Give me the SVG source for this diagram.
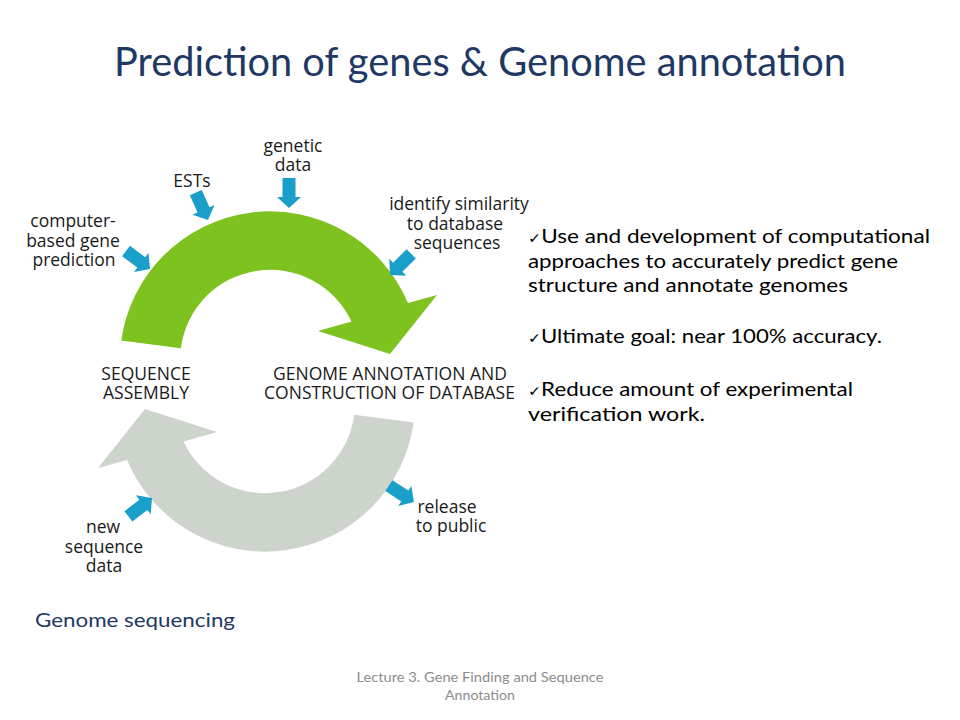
<svg xmlns="http://www.w3.org/2000/svg" width="960" height="720" viewBox="0 0 960 720">
<style>
.lbl{font-family:"Open Sans","Noto Sans",sans-serif;font-size:17.5px;fill:#1a1a1a;text-anchor:middle}
.body{font-family:Lato,"DejaVu Sans",sans-serif;font-size:20px;fill:#000}
.ck{font-size:14px}
.blue{fill:#1a9fca}
</style>
<defs>
<path id="cyc" d="M121.3,340.4 A150,150 0 0 1 408,303 L437,295 L390,354 L318,331 L351.5,321.5 A90,90 0 0 0 180.8,348.3 Z"/>
<polygon id="ba" points="-30,-6.5 -11,-6.5 -11,-12 0,0 -11,12 -11,6.5 -30,6.5"/>
</defs>
<rect width="960" height="720" fill="#fff"/>
<text x="480" y="76" text-anchor="middle" font-family="Lato,sans-serif" font-size="40" fill="#1f3864" textLength="732" lengthAdjust="spacingAndGlyphs">Prediction of genes &amp; Genome annotation</text>
<g id="connectors">
<use href="#cyc" fill="#7dc21e"/>
<use href="#cyc" fill="#cdd4cb" transform="rotate(180 267.5 381.5)"/>
<use href="#ba" class="blue" transform="translate(150,269) rotate(37)"/>
<use href="#ba" class="blue" transform="translate(208,220) rotate(66)"/>
<use href="#ba" class="blue" transform="translate(289,208) rotate(90)"/>
<use href="#ba" class="blue" transform="translate(390,275) rotate(135)"/>
<use href="#ba" class="blue" transform="translate(152,498) rotate(-38)"/>
<use href="#ba" class="blue" transform="translate(414,502) rotate(33)"/>
</g>
<g id="node-assembly"><text class="lbl" x="146" y="380">SEQUENCE</text><text class="lbl" x="146" y="399">ASSEMBLY</text></g>
<g id="node-annotation"><text class="lbl" x="390" y="380">GENOME ANNOTATION AND</text><text class="lbl" x="389.5" y="399">CONSTRUCTION OF DATABASE</text></g>
<g id="in-computer"><text class="lbl" x="73" y="227">computer-</text><text class="lbl" x="73" y="247">based gene</text><text class="lbl" x="74" y="266">prediction</text></g>
<g id="in-ests"><text class="lbl" x="192" y="187">ESTs</text></g>
<g id="in-genetic"><text class="lbl" x="293" y="152">genetic</text><text class="lbl" x="293" y="171">data</text></g>
<g id="in-similarity"><text class="lbl" x="459" y="210">identify similarity</text><text class="lbl" x="455" y="230">to database</text><text class="lbl" x="457" y="249">sequences</text></g>
<g id="in-newseq"><text class="lbl" x="103" y="533">new</text><text class="lbl" x="104" y="553">sequence</text><text class="lbl" x="104" y="572">data</text></g>
<g id="out-release"><text class="lbl" x="447" y="513">release</text><text class="lbl" x="451" y="532">to public</text></g>
<g id="bullets">
<text class="body" x="528" y="243" textLength="402" lengthAdjust="spacingAndGlyphs"><tspan class="ck">✓</tspan>Use and development of computational</text>
<text class="body" x="528" y="268" textLength="370" lengthAdjust="spacingAndGlyphs">approaches to accurately predict gene</text>
<text class="body" x="528" y="292" textLength="320" lengthAdjust="spacingAndGlyphs">structure and annotate genomes</text>
<text class="body" x="528" y="343" textLength="354" lengthAdjust="spacingAndGlyphs"><tspan class="ck">✓</tspan>Ultimate goal: near 100% accuracy.</text>
<text class="body" x="528" y="396" textLength="325" lengthAdjust="spacingAndGlyphs"><tspan class="ck">✓</tspan>Reduce amount of experimental</text>
<text class="body" x="528" y="421" textLength="177" lengthAdjust="spacingAndGlyphs">verification work.</text>
</g>
<text x="35" y="627" font-family="Lato,sans-serif" font-size="20" fill="#1f3864" textLength="200" lengthAdjust="spacingAndGlyphs">Genome sequencing</text>
<g font-family="Lato,sans-serif" font-size="13" fill="#8c8c8c" text-anchor="middle">
<text x="480" y="682" textLength="247" lengthAdjust="spacingAndGlyphs">Lecture 3. Gene Finding and Sequence</text>
<text x="480" y="700" textLength="70" lengthAdjust="spacingAndGlyphs">Annotation</text>
</g>
</svg>
